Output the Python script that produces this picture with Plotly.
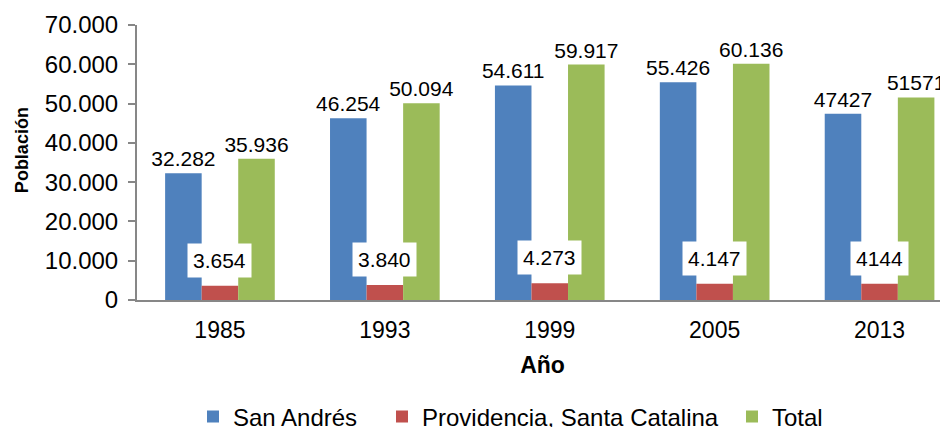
import plotly.graph_objects as go

years = ["1985", "1993", "1999", "2005", "2013"]
san_andres = [32282, 46254, 54611, 55426, 47427]
providencia = [3654, 3840, 4273, 4147, 4144]
total = [35936, 50094, 59917, 60136, 51571]

san_andres_lbl = ["32.282", "46.254", "54.611", "55.426", "47427"]
providencia_lbl = ["3.654", "3.840", "4.273", "4.147", "4144"]
total_lbl = ["35.936", "50.094", "59.917", "60.136", "51571"]

ytick_vals = [0, 10000, 20000, 30000, 40000, 50000, 60000, 70000]
ytick_txt = ["0", "10.000", "20.000", "30.000", "40.000", "50.000", "60.000", "70.000"]

font = "Arial, Liberation Sans, sans-serif"
axis_col = "#878787"
W, H = 940, 419  # page body has an 8px margin

fig = go.Figure()
fig.add_trace(go.Bar(x=years, y=san_andres, name="San Andrés", marker_color="#4F81BD",
                     text=san_andres_lbl, textposition="outside",
                     textfont=dict(size=21, color="black"), legend="legend"))
fig.add_trace(go.Bar(x=years, y=providencia, name="Providencia, Santa Catalina",
                     marker_color="#C0504D", textposition="none", legend="legend2"))
fig.add_trace(go.Bar(x=years, y=total, name="Total", marker_color="#9BBB59",
                     text=total_lbl, textposition="outside",
                     textfont=dict(size=21, color="black"), legend="legend3"))
fig.update_traces(cliponaxis=False, constraintext="none", marker_line_width=0)

# white boxed labels above the small red bars (x as category index)
for i, (v, t) in enumerate(zip(providencia, providencia_lbl)):
    fig.add_annotation(x=i, y=v, xref="x", yref="y", text=t, showarrow=False,
                       yanchor="bottom", yshift=8,
                       bgcolor="white", borderpad=5, font=dict(size=21, color="black"))

# y axis title
fig.add_annotation(x=-0.1418, y=0.545, xref="paper", yref="paper", text="<b>Población</b>",
                   textangle=-90, showarrow=False, xanchor="center", yanchor="middle",
                   font=dict(size=18, color="black"))

leg = dict(orientation="h", xref="container", xanchor="left",
           y=(H - 409) / H, yref="container", yanchor="middle",
           font=dict(size=24), itemwidth=30, bgcolor="rgba(0,0,0,0)")

fig.update_layout(
    width=W, height=H,
    margin=dict(l=129, r=0, t=17, b=127, autoexpand=False),
    paper_bgcolor="white", plot_bgcolor="white",
    font=dict(family=font, color="black"),
    barmode="group", bargap=0.335, bargroupgap=0,
    showlegend=True,
    legend=dict(leg, x=185 / W),
    legend2=dict(leg, x=374 / W),
    legend3=dict(leg, x=724 / W),
)
fig.update_xaxes(type="category", range=[-0.503, 4.415],
                 showline=True, linecolor=axis_col, linewidth=2, ticks="",
                 tickfont=dict(size=23), showgrid=False, tickangle=0,
                 ticklabelstandoff=8,
                 title=dict(text="<b>Año</b>", font=dict(size=23), standoff=15))
fig.update_yaxes(range=[0, 70000], tickvals=ytick_vals, ticktext=ytick_txt,
                 showline=True, linecolor=axis_col, linewidth=2,
                 ticks="outside", ticklen=7, tickwidth=2, tickcolor=axis_col,
                 ticklabelstandoff=5,
                 tickfont=dict(size=24), showgrid=False, zeroline=False)

fig.write_html("out.html")
